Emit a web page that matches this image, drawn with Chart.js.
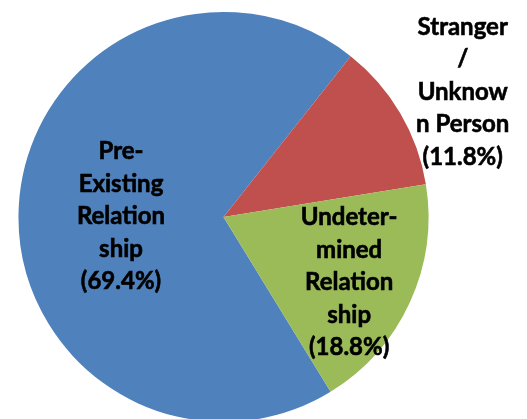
<!DOCTYPE html>
<html>
<head>
<meta charset="utf-8">
<script src="https://cdn.jsdelivr.net/npm/chart.js@4/dist/chart.umd.min.js"></script>
<style>
html,body{margin:0;padding:0;background:#fff;overflow:hidden;width:527px;height:419px;}
canvas{display:block;}
</style>
</head>
<body>
<canvas id="c" width="527" height="430"></canvas>
<script>
const categories = ["Pre-Existing Relationship", "Stranger / Unknown Person", "Undetermined Relationship"];
const values = [69.4, 11.8, 18.8];
const labelLines = [
  ["Pre-", "Existing", "Relation", "ship"],
  ["Stranger", "/", "Unknow", "n Person"],
  ["Undeter-", "mined", "Relation", "ship"]
];
const colors = ["#4F81BD", "#C0504D", "#9BBB59"];

// label placement: fraction of radius, and angle adjustment (deg) from slice middle
const placement = [
  {frac: 0.50, shift: -2.9},
  {frac: 1.317, shift: 2.8},
  {frac: 0.69, shift: 2.7}
];

const labelPlugin = {
  id: 'sliceLabels',
  afterDatasetsDraw(chart) {
    const ctx = chart.ctx;
    const meta = chart.getDatasetMeta(0);
    ctx.save();
    ctx.font = 'bold 24px Lato, "Liberation Sans", sans-serif';
    ctx.fillStyle = '#000';
    ctx.strokeStyle = '#000';
    ctx.lineWidth = 0.6;
    ctx.textAlign = 'center';
    ctx.textBaseline = 'alphabetic';
    const lh = 32.5;
    meta.data.forEach((arc, i) => {
      const p = placement[i];
      const mid = (arc.startAngle + arc.endAngle) / 2 + p.shift * Math.PI / 180;
      const cx = arc.x + Math.cos(mid) * arc.outerRadius * p.frac;
      const cy = arc.y + Math.sin(mid) * arc.outerRadius * p.frac;
      const lines = labelLines[i].concat(['(' + values[i].toFixed(1) + '%)']);
      const n = lines.length;
      lines.forEach((t, k) => {
        const y = cy + 8 + (k - (n - 1) / 2) * lh;
        ctx.fillText(t, cx, y);
        ctx.strokeText(t, cx, y);
      });
    });
    ctx.restore();
  }
};

new Chart(document.getElementById('c'), {
  type: 'pie',
  data: {
    labels: categories,
    datasets: [{
      data: values,
      backgroundColor: colors,
      borderWidth: 0
    }]
  },
  options: {
    responsive: false,
    animation: false,
    rotation: 148.5,
    layout: { padding: { top: 12, bottom: 8, left: 18.5, right: 98.5 } },
    plugins: {
      legend: { display: false },
      tooltip: { enabled: false }
    }
  },
  plugins: [labelPlugin]
});
</script>
</body>
</html>
